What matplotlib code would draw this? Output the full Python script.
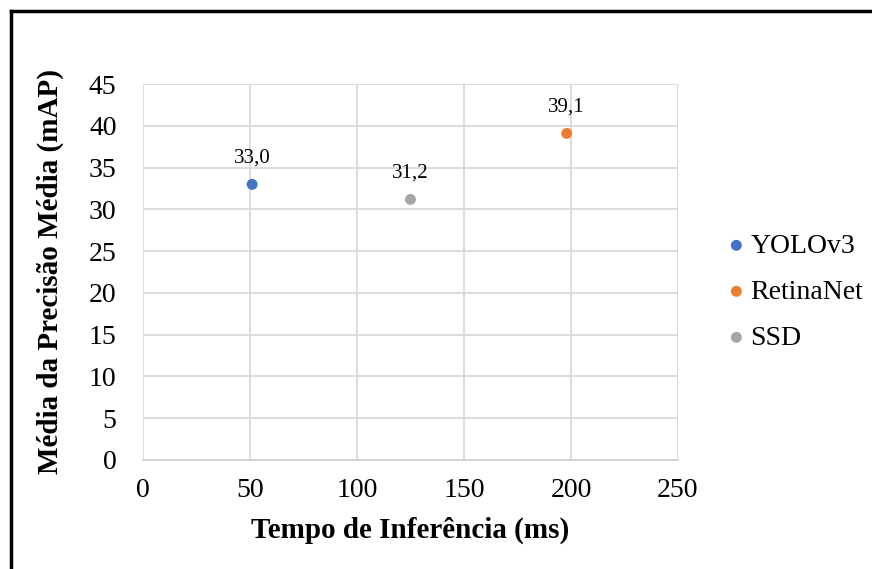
import matplotlib.pyplot as plt
from matplotlib.lines import Line2D

# dados
modelos = ['YOLOv3', 'RetinaNet', 'SSD']
tempo_ms = [51, 198, 125]
map_vals = [33.0, 39.1, 31.2]
cores = ['#4472C4', '#ED7D31', '#A5A5A5']

plt.rcParams['font.family'] = ['Liberation Serif', 'DejaVu Serif']

fig = plt.figure(figsize=(8.72, 5.69), dpi=100)
ax = fig.add_axes([0.164, 0.192, 0.6135, 0.66])

for nome, x, y, c in zip(modelos, tempo_ms, map_vals, cores):
    ax.scatter(x, y, s=62, color=c, label=nome, zorder=3, edgecolors='none')
    ax.annotate(f'{y:.1f}'.replace('.', ','), (x, y), xytext=(0, 12),
                textcoords='offset points', ha='center', va='bottom', fontsize=15)

ax.set_xlim(0, 250)
ax.set_ylim(0, 45)
ax.set_xticks(range(0, 251, 50))
ax.set_yticks(range(0, 46, 5))
ax.grid(True, color='#d9d9d9', linewidth=1.3)
ax.set_axisbelow(True)
for s in ['top', 'right', 'left']:
    ax.spines[s].set_visible(False)
ax.spines['bottom'].set_color('#d0d0d0')
ax.spines['bottom'].set_linewidth(1.3)
ax.tick_params(length=0, labelsize=20)
ax.tick_params(axis='x', pad=13)
ax.tick_params(axis='y', pad=19)

ax.set_xlabel('Tempo de Inferência (ms)', fontsize=21, fontweight='bold', labelpad=10)
ax.set_ylabel('Média da Precisão Média (mAP)', fontsize=21, fontweight='bold', labelpad=18)

ax.legend(loc='center left', bbox_to_anchor=(1.052, 0.447), frameon=False, fontsize=20,
          handletextpad=0.1, labelspacing=0.74, markerscale=1.0, handlelength=0.8,
          borderpad=0.2)

# borda da figura (so topo e esquerda)
fig.add_artist(Line2D([11/872, 1], [1-11/569, 1-11/569], color='black', lw=2.5, transform=fig.transFigure))
fig.add_artist(Line2D([11/872, 11/872], [0, 1-11/569], color='black', lw=2.5, transform=fig.transFigure))

fig.savefig('out.png', dpi=100)
